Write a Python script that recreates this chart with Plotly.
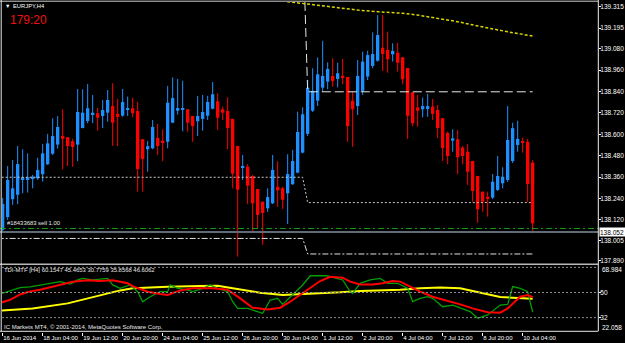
import plotly.graph_objects as go

W, H = 625, 343

# ---------------- DATA ----------------
# H4 bars, index 0 = 16 Jun 2014 20:00
opens = [138.064, 138.136, 138.236, 138.261, 138.348, 138.348, 138.351, 138.353, 138.376, 138.432,
         138.491, 138.542, 138.590, 138.583, 138.561, 138.542, 138.635, 138.674, 138.712, 138.718,
         138.702, 138.721, 138.758, 138.714, 138.704, 138.736, 138.746, 138.730, 138.572, 138.516,
         138.521, 138.579, 138.564, 138.558, 138.665, 138.732, 138.738, 138.740, 138.702, 138.673,
         138.686, 138.704, 138.743, 138.785, 138.740, 138.730, 138.686, 138.534, 138.413, 138.418,
         138.366, 138.293, 138.222, 138.185, 138.213, 138.306, 138.297, 138.269, 138.320, 138.385,
         138.497, 138.602, 138.732, 138.788, 138.861, 138.895, 138.927, 138.910, 138.927, 138.921,
         138.788, 138.758, 138.843, 138.923, 138.983, 139.012, 139.085, 139.072, 139.048, 139.057,
         139.031, 138.971, 138.835, 138.751, 138.740, 138.747, 138.755, 138.736, 138.690, 138.607,
         138.564, 138.572, 138.525, 138.502, 138.450, 138.366, 138.278, 138.250, 138.245, 138.288,
         138.325, 138.344, 138.450, 138.540, 138.562, 138.557, 138.441]
highs = [138.243, 138.422, 138.456, 138.534, 138.516, 138.493, 138.372, 138.469, 138.546, 138.602,
         138.690, 138.702, 138.740, 138.585, 138.575, 138.854, 138.852, 138.882, 138.820, 138.749,
         138.792, 138.848, 138.886, 138.798, 138.854, 138.811, 138.805, 138.783, 138.574, 138.562,
         138.680, 138.658, 138.628, 138.871, 138.919, 138.910, 138.900, 138.741, 138.703, 138.815,
         138.820, 138.815, 138.893, 138.830, 138.755, 138.807, 138.687, 138.535, 138.484, 138.432,
         138.372, 138.294, 138.223, 138.297, 138.484, 138.449, 138.306, 138.488, 138.512, 138.727,
         138.751, 138.904, 138.970, 139.031, 139.124, 139.003, 139.026, 139.001, 139.022, 138.922,
         138.839, 139.016, 139.063, 139.068, 139.171, 139.268, 139.268, 139.175, 139.110, 139.113,
         139.032, 138.972, 138.836, 138.820, 138.805, 138.826, 138.798, 138.764, 138.691, 138.614,
         138.628, 138.624, 138.534, 138.546, 138.451, 138.367, 138.279, 138.278, 138.377, 138.478,
         138.415, 138.758, 138.665, 138.676, 138.581, 138.574, 138.456]
lows = [138.052, 138.120, 138.204, 138.208, 138.269, 138.273, 138.297, 138.344, 138.334, 138.428,
        138.484, 138.519, 138.404, 138.422, 138.418, 138.449, 138.633, 138.662, 138.662, 138.620,
        138.635, 138.670, 138.534, 138.534, 138.698, 138.702, 138.695, 138.278, 138.278, 138.390,
        138.516, 138.484, 138.449, 138.521, 138.662, 138.710, 138.617, 138.614, 138.558, 138.590,
        138.620, 138.680, 138.740, 138.624, 138.680, 138.516, 138.297, 137.914, 138.344, 138.208,
        138.054, 138.075, 137.980, 138.164, 138.209, 138.194, 138.181, 138.097, 138.316, 138.381,
        138.493, 138.590, 138.725, 138.758, 138.839, 138.852, 138.867, 138.863, 138.880, 138.558,
        138.530, 138.708, 138.820, 138.904, 138.970, 139.007, 138.955, 138.945, 139.007, 138.951,
        138.880, 138.574, 138.646, 138.642, 138.695, 138.698, 138.680, 138.579, 138.450, 138.432,
        138.502, 138.376, 138.432, 138.316, 138.222, 138.104, 138.166, 138.138, 138.237, 138.282,
        138.297, 138.333, 138.439, 138.502, 138.497, 138.220, 138.045]
closes = [138.209, 138.344, 138.297, 138.433, 138.359, 138.359, 138.362, 138.400, 138.493, 138.549,
          138.590, 138.641, 138.574, 138.534, 138.529, 138.725, 138.721, 138.746, 138.721, 138.693,
          138.736, 138.792, 138.665, 138.697, 138.781, 138.746, 138.718, 138.405, 138.461, 138.533,
          138.641, 138.534, 138.551, 138.777, 138.803, 138.747, 138.742, 138.665, 138.646, 138.702,
          138.725, 138.781, 138.824, 138.693, 138.721, 138.635, 138.379, 138.289, 138.422, 138.312,
          138.213, 138.148, 138.159, 138.248, 138.400, 138.286, 138.233, 138.377, 138.450, 138.613,
          138.712, 138.861, 138.843, 138.936, 138.927, 138.966, 138.899, 138.942, 138.915, 138.646,
          138.740, 138.927, 139.007, 139.044, 139.050, 139.156, 139.050, 139.020, 139.067, 139.001,
          138.908, 138.704, 138.662, 138.732, 138.758, 138.758, 138.714, 138.635, 138.523, 138.478,
          138.577, 138.471, 138.478, 138.390, 138.282, 138.180, 138.222, 138.237, 138.334, 138.366,
          138.362, 138.568, 138.634, 138.574, 138.551, 138.321, 138.101]

tick_bars = [0, 8, 16, 24, 32, 40, 48, 56, 64, 72, 80, 88, 96, 104]
tick_labels = ["16 Jun 2014", "18 Jun 04:00", "19 Jun 12:00", "20 Jun 20:00", "24 Jun 04:00",
               "25 Jun 12:00", "26 Jun 20:00", "30 Jun 04:00", "1 Jul 12:00", "2 Jul 20:00",
               "4 Jul 04:00", "7 Jul 12:00", "8 Jul 20:00", "10 Jul 04:00"]

price_ticks = [139.315, 139.195, 139.080, 138.960, 138.840, 138.720, 138.600, 138.480,
               138.360, 138.240, 138.120, 138.005, 137.890]
bid_price = 138.052
order_price = 138.072
order_label = "#18433683 sell 1.00"

# step channel lines (bar index breakpoints, price)
chan_x = [-1, 60, 61, 106]
chan_upper = [139.745, 139.745, 138.838, 138.838]
chan_mid = [138.359, 138.359, 138.217, 138.217]
chan_low = [138.016, 138.016, 137.929, 137.929]

# slow moving average (yellow dotted)
ma_x = [54, 57, 61, 66, 71, 75, 80, 83, 87, 91, 95, 99, 102, 106]
ma_v = [139.365, 139.343, 139.330, 139.311, 139.296, 139.287, 139.278, 139.268, 139.250,
        139.231, 139.207, 139.184, 139.169, 139.151]

# TDI indicator
tdi_max, tdi_min = 68.984, 22.058
tdi_yellow_x = [-0.5, 6, 13, 19.5, 23.5, 26, 33, 39.5, 43, 46, 51.5, 56, 63.5, 67.5, 71.5,
                75.5, 79.5, 83.5, 87.5, 91.5, 94, 97, 99.5, 102, 106]
tdi_yellow = [37.0, 38.6, 42.2, 47.7, 51.5, 53.0, 54.2, 54.6, 54.9, 53.0, 49.9, 48.2, 49.2,
              50.1, 51.1, 51.5, 52.0, 53.0, 53.5, 53.0, 51.1, 48.7, 46.8, 46.3, 45.5]
tdi_red_x = [-0.5, 1.5, 3.5, 5.5, 7.5, 10, 14, 17, 19.5, 22, 25, 26, 29, 31.5, 33, 35.5, 38,
             42, 45, 47.5, 50, 53, 55.5, 57.5, 59.5, 61.5, 63.5, 65.5, 68, 69.5, 71.5, 74,
             76, 78, 79.5, 81.5, 83.5, 86, 89, 91.5, 94, 97, 99.5, 101, 103.5, 105, 106]
tdi_red = [42.5, 44.8, 48.6, 50.8, 52.0, 54.0, 57.7, 58.7, 58.2, 58.7, 56.6, 54.6, 50.6, 48.9,
           48.2, 51.5, 53.0, 53.0, 52.0, 45.8, 39.1, 37.9, 39.1, 43.4, 48.2, 53.5, 58.2, 61.3,
           60.6, 57.8, 55.8, 55.8, 56.6, 58.2, 57.8, 54.2, 50.6, 47.0, 44.1, 41.5, 38.6, 35.8,
           35.5, 38.6, 47.0, 48.2, 46.6]
tdi_green_x = [-0.5, 1.5, 3.5, 5.5, 7.5, 9.5, 11.5, 13.5, 15, 16, 18, 21, 22, 23.5, 25.5, 27,
               28, 29.5, 31.5, 33, 33.5, 35, 37, 38, 40, 41.5, 43, 45, 46, 47, 49, 51, 52, 53.5,
               55, 56, 58, 60, 61.5, 64.8, 68, 69.5, 70, 71.5, 73.5, 75.5, 77, 79, 81, 82, 83.5,
               85, 86, 88, 90, 92, 93.5, 95, 97, 99.5, 101, 102, 103.5, 105, 106]
tdi_green = [49.0, 51.0, 53.5, 54.0, 55.0, 56.5, 57.8, 56.0, 59.0, 60.1, 59.0, 60.1, 55.4, 53.0,
             55.4, 50.6, 43.4, 47.0, 50.6, 50.6, 55.4, 53.0, 51.8, 50.6, 53.0, 55.4, 53.0, 50.6,
             43.4, 38.6, 38.6, 36.3, 35.1, 44.6, 45.8, 41.5, 48.2, 55.4, 62.0, 62.0, 59.0, 50.6,
             49.4, 56.6, 59.0, 60.1, 56.6, 56.6, 53.0, 43.4, 45.8, 47.0, 45.8, 39.8, 41.0, 38.6,
             36.3, 31.5, 33.9, 41.0, 41.5, 54.2, 53.0, 50.6, 35.9]
tdi_levels = [68, 50, 32]
tdi_caption = "TDI-MTF [H4] 60.1547 45.4653 30.7759 35.8568 46.6062"

# ---------------- FIGURE ----------------
FONT = "Liberation Sans, Arial, sans-serif"
UP, DN = "#1E90FF", "#FF0000"
n = len(opens)
idx = list(range(n))

fig = go.Figure()

# wicks
for up, col in ((True, UP), (False, DN)):
    wx, wy = [], []
    for i in idx:
        if (closes[i] >= opens[i]) == up:
            wx += [i, i, None]
            wy += [lows[i], highs[i], None]
    fig.add_trace(go.Scatter(x=wx, y=wy, mode="lines", line=dict(color=col, width=1),
                             hoverinfo="skip", xaxis="x", yaxis="y"))

# bodies
min_body = 0.0056
base = [min(o, c) for o, c in zip(opens, closes)]
hgt = [max(abs(c - o), min_body) for o, c in zip(opens, closes)]
cols = [UP if c >= o else DN for o, c in zip(opens, closes)]
fig.add_trace(go.Bar(x=idx, y=hgt, base=base, width=0.66, marker=dict(color=cols, line=dict(width=0)),
                     xaxis="x", yaxis="y"))

# channel lines
fig.add_trace(go.Scatter(x=chan_x, y=chan_upper, mode="lines",
                         line=dict(color="#e8e8e8", width=1, dash="9px,4px"), xaxis="x", yaxis="y"))
fig.add_trace(go.Scatter(x=chan_x, y=chan_mid, mode="lines",
                         line=dict(color="#c8c8c8", width=1, dash="2px,2px"), xaxis="x", yaxis="y"))
fig.add_trace(go.Scatter(x=chan_x, y=chan_low, mode="lines",
                         line=dict(color="#e0e0e0", width=1, dash="6px,2px,2px,2px"), xaxis="x", yaxis="y"))
# MA
fig.add_trace(go.Scatter(x=ma_x, y=ma_v, mode="lines",
                         line=dict(color="#d8d800", width=1.5, dash="3px,2px"), xaxis="x", yaxis="y"))

# TDI
fig.add_trace(go.Scatter(x=tdi_yellow_x, y=tdi_yellow, mode="lines",
                         line=dict(color="#ffff00", width=2), xaxis="x2", yaxis="y2"))
fig.add_trace(go.Scatter(x=tdi_green_x, y=tdi_green, mode="lines",
                         line=dict(color="#00a000", width=1.3), xaxis="x2", yaxis="y2"))
fig.add_trace(go.Scatter(x=tdi_red_x, y=tdi_red, mode="lines",
                         line=dict(color="#ff0000", width=2), xaxis="x2", yaxis="y2"))

xl, xr = 2 / W, 598 / W
xrange = [-0.134, 119.066]
shapes = []
# order line & bid line
shapes.append(dict(type="line", xref="paper", x0=0, x1=xr, yref="y", y0=order_price, y1=order_price,
                   line=dict(color="#10a010", width=1, dash="6px,3px,2px,3px")))
shapes.append(dict(type="line", xref="paper", x0=0, x1=xr, yref="y", y0=bid_price, y1=bid_price,
                   line=dict(color="#5f6b76", width=2)))
for lv in tdi_levels:
    shapes.append(dict(type="line", xref="paper", x0=xl, x1=xr, yref="y2", y0=lv, y1=lv,
                       line=dict(color="#8a8a8a", width=1, dash="2px,2px")))
# frame
def hline(py, col, w=1):
    return dict(type="line", xref="paper", yref="paper", x0=0, x1=xr, y0=1 - py / H, y1=1 - py / H,
                line=dict(color=col, width=w))
def vline(px, y0, y1, col, w=1):
    return dict(type="line", xref="paper", yref="paper", x0=px / W, x1=px / W,
                y0=1 - y1 / H, y1=1 - y0 / H, line=dict(color=col, width=w))
shapes += [hline(1.2, "#d0d0d0"), hline(264.3, "#b8b8b8", 1.5), hline(331.3, "#e8e8e8"),
           vline(1.2, 0, 331.3, "#e8e8e8"), vline(598.3, 0, 331.3, "#f0f0f0")]

def ann(text, px, py, size=6, color="#ffffff", family=FONT, **kw):
    d = dict(text=text, xref="paper", yref="paper", x=px / W, y=1 - py / H, xanchor="left",
             yanchor="middle", showarrow=False, font=dict(family=family, size=size, color=color))
    d.update(kw)
    return d

annotations = [
    ann("▼", 2.5, 6, size=5.5),
    ann("EURJPY,H4", 10.5, 6, size=5.8),
    ann("179:20", 8, 19.5, size=12, color="#f01010"),
    ann(tdi_caption, 2, 270, size=5.9, color="#e8e8e8"),
    ann("IC Markets MT4, © 2001-2014, MetaQuotes Software Corp.", 2, 326.5, size=6, color="#e8e8e8"),
    # indicator scale extremes (drawn at the panel edges like the terminal does)
    ann("%.3f" % tdi_max, 599.5, 269.5, size=6.5),
    ann("%.3f" % tdi_min, 599.5, 327.8, size=6.5),
    dict(text=order_label, xref="paper", x=5 / W, yref="y", y=order_price, xanchor="left",
         yanchor="bottom", showarrow=False, font=dict(family=FONT, size=5.9, color="#e8e8e8")),
    dict(text="%.3f" % bid_price, xref="paper", x=598.8 / W, yref="y", y=bid_price, xanchor="left",
         yanchor="middle", showarrow=False, bgcolor="#ffffff", borderpad=0,
         font=dict(family=FONT, size=6.5, color="#000000"), width=26, height=8, align="left"),
]

yfont = dict(family=FONT, size=6.5, color="#ffffff")
xfont = dict(family=FONT, size=6, color="#ffffff")
fig.update_layout(
    width=W, height=H, margin=dict(l=0, r=0, t=0, b=0),
    paper_bgcolor="#000000", plot_bgcolor="#000000", showlegend=False, barmode="overlay",
    shapes=shapes, annotations=annotations,
    xaxis=dict(domain=[xl, xr], range=xrange, anchor="y", showticklabels=False, showgrid=False,
               zeroline=False, ticks="", automargin=False),
    yaxis=dict(domain=[1 - 262 / H, 1 - 2 / H], range=[137.884, 139.3413], side="right", anchor="x",
               tickvals=price_ticks, ticktext=["%.3f" % v for v in price_ticks], ticks="outside",
               ticklen=2, tickcolor="#ffffff", tickfont=yfont, showgrid=False, zeroline=False,
               automargin=False, ticklabelstandoff=-2),
    xaxis2=dict(domain=[xl, xr], range=xrange, anchor="y2", tickvals=tick_bars, ticktext=tick_labels,
                ticks="outside", ticklen=3, tickcolor="#ffffff", tickfont=xfont, tickangle=0,
                ticklabelposition="outside right", showgrid=False, zeroline=False, automargin=False),
    yaxis2=dict(domain=[1 - 331.5 / H, 1 - 266 / H], range=[tdi_min, tdi_max], side="right", anchor="x2",
                tickvals=[50, 32], ticktext=["50", "32"], ticks="outside",
                ticklen=2, tickcolor="#ffffff", tickfont=yfont, showgrid=False, zeroline=False,
                automargin=False, ticklabelstandoff=-2),
)

fig.write_html("out.html")
